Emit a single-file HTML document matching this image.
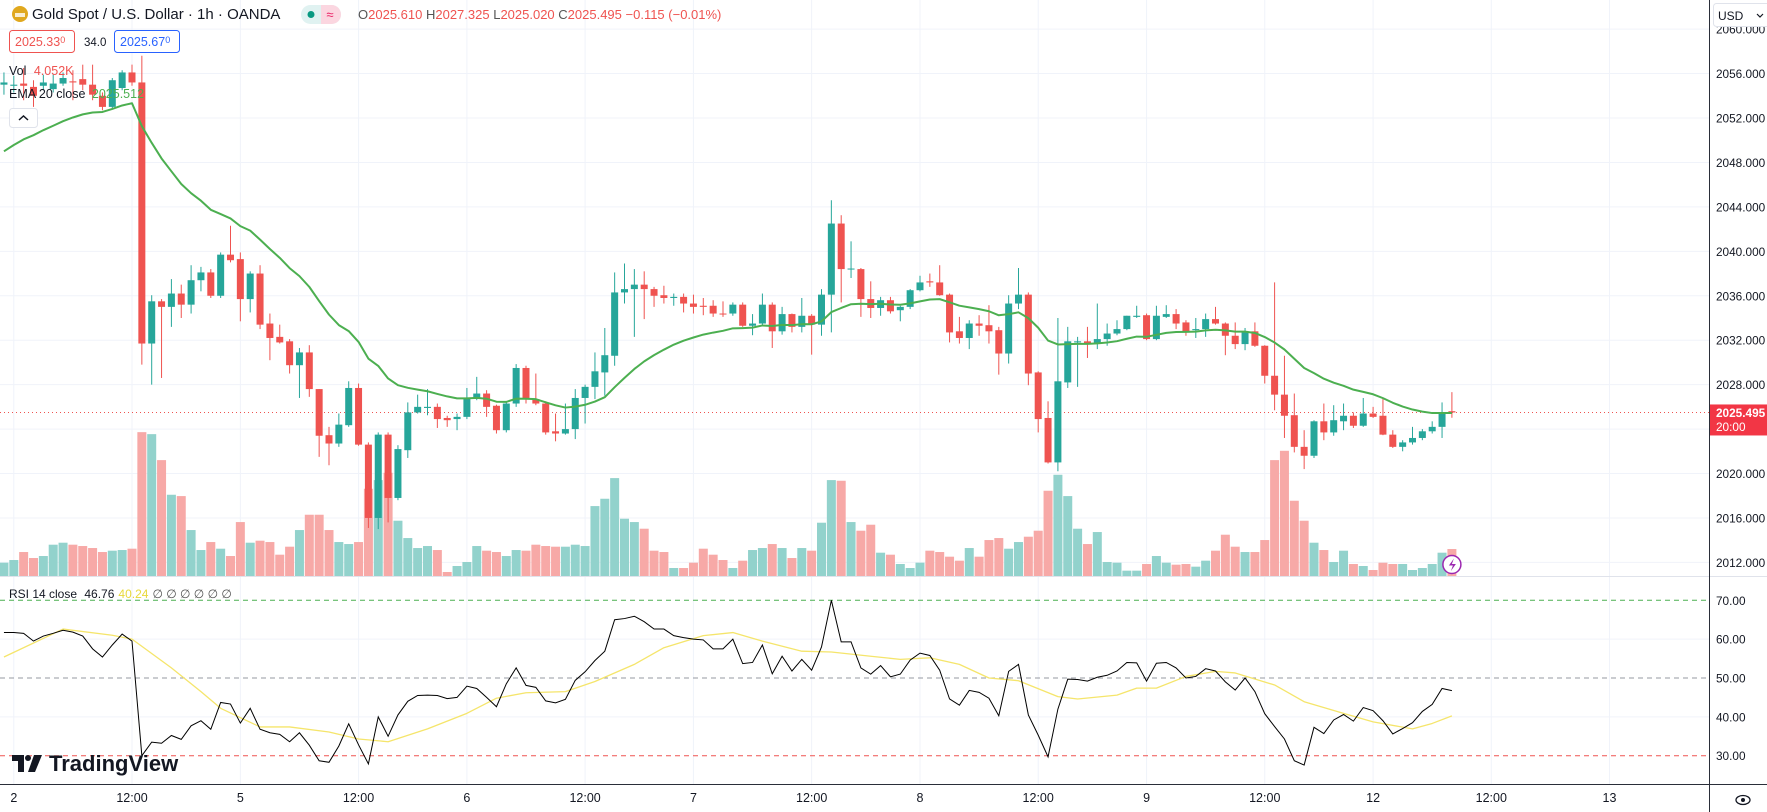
<!DOCTYPE html>
<html><head><meta charset="utf-8"><style>
html,body{margin:0;padding:0;background:#fff;width:1767px;height:812px;overflow:hidden}
svg{display:block;font-family:"Liberation Sans",sans-serif}
</style></head><body>
<svg id="chart" width="1767" height="812" viewBox="0 0 1767 812" xmlns="http://www.w3.org/2000/svg">
<g id="grid"></g>
<g id="volumes"></g>
<g id="candles"></g>
<g id="ema"></g>
<g id="rsi"></g>
<g id="axes"></g>
<g id="overlay">
  <circle cx="20" cy="14" r="8" fill="#e0a81e"/>
  <rect x="15" y="13" width="10" height="4" fill="#fff" opacity="0.8"/>
  <text x="32" y="19" font-size="15" fill="#131722">Gold Spot / U.S. Dollar · 1h · OANDA</text>
  <rect x="301" y="5" width="40" height="19" rx="9.5" fill="#e0f2f1"/>
  <path d="M321 5 h10.5 a9.5 9.5 0 0 1 0 19 h-10.5 z" fill="#fbd6e0"/>
  <circle cx="311" cy="14.5" r="3.5" fill="#089981"/>
  <text x="330" y="19" font-size="13" fill="#e91e63" text-anchor="middle">≈</text>
  <text x="358" y="19" font-size="13" fill="#ef5350"><tspan fill="#555">O</tspan>2025.610 <tspan fill="#555">H</tspan>2027.325 <tspan fill="#555">L</tspan>2025.020 <tspan fill="#555">C</tspan>2025.495 −0.115 (−0.01%)</text>
  <rect x="9.5" y="30.5" width="65" height="22" rx="3" fill="#fff" stroke="#ef5350"/>
  <text x="15" y="46" font-size="12.5" fill="#ef5350">2025.33<tspan font-size="9" dy="-3">0</tspan></text>
  <text x="84" y="46" font-size="11.5" fill="#131722">34.0</text>
  <rect x="114.5" y="30.5" width="65" height="22" rx="3" fill="#fff" stroke="#2962ff"/>
  <text x="120" y="46" font-size="12.5" fill="#2962ff">2025.67<tspan font-size="9" dy="-3">0</tspan></text>
  <text x="9" y="75" font-size="12.5" fill="#131722">Vol <tspan fill="#ef5350" dx="4">4.052K</tspan></text>
  <text x="9" y="98" font-size="12.5" fill="#131722">EMA 20 close <tspan fill="#4caf50" dx="3">2025.512</tspan></text>
  <rect x="9.5" y="108.5" width="28" height="19" rx="3" fill="#fff" stroke="#e0e3eb"/>
  <path d="M19 120 l4.5 -4 l4.5 4" fill="none" stroke="#131722" stroke-width="1.5"/>
  <text x="9" y="598" font-size="12" fill="#131722">RSI 14 close <tspan dx="4">46.76</tspan><tspan fill="#e8d93a" dx="4">40.24</tspan><tspan dx="4" fill="#555">∅ ∅ ∅ ∅ ∅ ∅</tspan></text>
  <g>
    <path d="M12 755 h12 v17 h-6 v-11 h-6 z" fill="#131722"/>
    <circle cx="28" cy="758" r="3" fill="#131722"/>
    <path d="M34 755 h8 l-7 17 h-7 z" fill="#131722"/>
    <text x="49" y="771" font-size="22" font-weight="bold" fill="#131722">TradingView</text>
  </g>
  <rect x="1713.5" y="3.5" width="56" height="23" rx="3" fill="#fff" stroke="#e0e3eb"/>
  <text x="1718" y="20" font-size="12" fill="#131722">USD</text>
  <path d="M1757 14 l3 3 l3 -3" fill="none" stroke="#131722" stroke-width="1.2"/>
  <g>
    <ellipse cx="1743" cy="800" rx="7" ry="4.5" fill="none" stroke="#131722" stroke-width="1.3"/>
    <circle cx="1743" cy="800" r="2" fill="#131722"/>
  </g>
</g>
</svg>
<script>
const opens=[2055.0,2054.9,2055.1,2054.8,2054.9,2054.6,2055.1,2055.3,2055.5,2055.0,2054.0,2053.0,2054.7,2056.1,2055.2,2031.7,2035.5,2035.0,2036.2,2035.2,2037.4,2038.1,2036.0,2039.7,2039.3,2035.7,2038.0,2033.5,2032.3,2031.9,2029.75,2030.9,2027.6,2023.45,2022.7,2024.35,2027.7,2022.6,2016.0,2023.5,2017.8,2022.1,2025.5,2025.9,2026.0,2025.0,2024.9,2025.1,2026.8,2027.2,2026.1,2023.9,2026.3,2029.5,2026.7,2026.3,2023.8,2023.6,2024.0,2026.8,2027.8,2029.1,2030.6,2036.3,2036.6,2037.0,2036.6,2036.05,2035.8,2035.9,2035.3,2035.1,2035.1,2034.4,2034.4,2035.2,2033.3,2033.5,2035.2,2032.8,2034.35,2033.2,2034.2,2033.4,2036.1,2042.5,2038.4,2038.4,2035.7,2034.9,2035.6,2034.7,2035.0,2036.5,2037.3,2037.2,2036.1,2032.8,2032.2,2033.5,2033.35,2032.9,2030.8,2035.3,2036.1,2029.1,2025.0,2021.0,2028.2,2031.8,2031.9,2031.7,2032.1,2032.6,2033.0,2034.1,2034.25,2032.1,2034.1,2034.35,2033.6,2032.9,2033.0,2033.9,2033.5,2032.4,2031.65,2032.8,2031.5,2028.8,2027.1,2025.25,2022.4,2021.6,2024.7,2023.7,2024.7,2025.2,2024.3,2025.4,2025.2,2023.5,2022.4,2022.8,2023.2,2023.8,2024.2,2025.61];
const highs=[2056.1,2055.8,2056.5,2055.4,2055.9,2055.9,2056.1,2056.3,2056.8,2056.8,2054.3,2055.6,2056.3,2056.8,2057.6,2036.05,2035.7,2037.5,2037.0,2038.75,2038.6,2038.4,2039.9,2042.3,2039.9,2038.2,2038.75,2034.4,2033.4,2032.1,2031.3,2031.55,2027.6,2024.2,2025.4,2028.3,2028.1,2022.8,2023.7,2023.7,2022.55,2026.4,2027.1,2027.6,2026.3,2025.2,2025.4,2027.7,2028.7,2027.5,2026.2,2026.5,2029.85,2029.7,2029.0,2026.5,2025.4,2026.3,2027.6,2028.0,2030.9,2033.1,2038.1,2038.9,2038.4,2038.2,2036.8,2036.9,2036.2,2036.2,2036.1,2035.8,2035.6,2035.5,2035.4,2035.4,2034.35,2036.2,2035.4,2035.0,2034.4,2035.8,2034.35,2036.6,2044.6,2043.25,2040.9,2038.5,2037.3,2035.9,2035.9,2035.1,2036.6,2037.8,2038.0,2038.75,2036.2,2034.1,2033.8,2034.25,2035.15,2033.2,2036.05,2038.5,2036.3,2029.2,2026.5,2034.0,2033.2,2032.3,2033.2,2035.3,2033.5,2033.8,2034.2,2035.1,2034.4,2035.1,2035.15,2034.8,2033.8,2034.0,2034.4,2035.0,2033.6,2033.6,2033.1,2033.6,2031.55,2037.2,2030.6,2027.2,2023.9,2024.8,2026.3,2026.15,2026.3,2025.5,2026.8,2026.0,2026.8,2023.9,2023.0,2024.2,2024.0,2024.7,2026.4,2027.325];
const lows=[2054.1,2054.3,2053.6,2053.0,2054.5,2054.3,2054.9,2053.6,2054.5,2053.6,2052.7,2052.8,2054.5,2054.9,2029.8,2028.0,2028.6,2033.2,2034.0,2034.4,2036.4,2035.8,2035.8,2039.0,2033.7,2034.5,2033.0,2030.2,2031.7,2029.0,2026.8,2026.9,2021.5,2020.75,2022.4,2024.2,2022.5,2015.1,2015.0,2015.6,2017.6,2021.4,2025.4,2025.25,2024.1,2024.2,2023.9,2024.9,2026.6,2025.1,2023.6,2023.7,2026.0,2026.3,2026.15,2023.5,2022.9,2023.5,2023.1,2024.5,2026.7,2027.0,2029.7,2035.3,2032.3,2033.9,2035.0,2035.3,2035.1,2034.5,2034.4,2034.25,2034.1,2034.1,2034.2,2033.2,2032.45,2033.3,2031.3,2032.5,2032.7,2032.7,2030.7,2032.4,2032.7,2035.4,2037.6,2034.1,2034.0,2034.2,2034.4,2033.7,2034.8,2036.4,2036.8,2036.0,2031.8,2031.7,2031.2,2032.4,2031.7,2028.9,2029.9,2034.8,2027.95,2023.7,2020.9,2020.2,2027.7,2027.8,2030.4,2031.2,2031.5,2032.45,2032.9,2034.0,2032.0,2032.0,2034.0,2033.0,2032.4,2032.2,2032.3,2033.4,2030.65,2031.2,2031.1,2031.4,2028.1,2025.7,2023.2,2021.9,2020.4,2021.4,2023.0,2023.4,2023.9,2024.1,2024.2,2025.0,2023.45,2022.3,2022.0,2022.6,2023.0,2023.6,2023.2,2025.02];
const closes=[2055.2,2055.0,2054.9,2054.0,2055.2,2055.1,2055.6,2055.2,2055.0,2054.1,2053.0,2055.4,2056.1,2055.2,2031.7,2035.5,2035.0,2036.2,2035.2,2037.4,2038.1,2036.0,2039.7,2039.2,2035.7,2038.0,2033.4,2032.2,2031.8,2029.75,2030.9,2027.6,2023.4,2022.7,2024.4,2027.7,2022.6,2016.0,2023.5,2017.8,2022.2,2025.5,2026.0,2026.0,2024.9,2024.8,2025.1,2026.8,2027.2,2026.0,2023.9,2026.3,2029.5,2026.7,2026.3,2023.7,2023.6,2024.0,2026.8,2027.8,2029.2,2030.65,2036.3,2036.6,2037.0,2036.6,2036.0,2035.8,2035.9,2035.3,2035.0,2035.0,2034.4,2034.35,2035.2,2033.3,2033.5,2035.2,2032.8,2034.35,2033.2,2034.2,2033.4,2036.1,2042.5,2038.4,2038.45,2035.7,2034.9,2035.6,2034.6,2035.0,2036.5,2037.2,2037.2,2036.05,2032.7,2032.2,2033.5,2033.3,2032.8,2030.8,2035.3,2036.1,2029.0,2024.9,2021.0,2028.3,2031.9,2031.9,2031.7,2032.1,2032.6,2033.0,2034.2,2034.2,2032.1,2034.2,2034.35,2033.5,2032.8,2033.0,2033.9,2033.5,2032.4,2031.65,2032.8,2031.5,2028.8,2027.1,2025.2,2022.4,2021.6,2024.7,2023.7,2024.8,2025.2,2024.3,2025.4,2025.1,2023.5,2022.4,2022.8,2023.2,2023.8,2024.2,2025.5,2025.495];
const volumesK=[2.0,2.4,3.6,2.7,3.0,4.7,5.0,4.7,4.5,4.2,3.6,3.8,3.9,4.1,21.6,21.3,17.4,12.2,12.0,6.9,3.9,5.1,4.1,3.0,8.1,5.0,5.3,5.1,3.2,4.4,6.9,9.2,9.2,6.9,5.1,4.8,5.1,13.1,14.4,15.5,8.3,5.7,4.2,4.5,3.9,0.6,1.5,2.1,4.5,3.8,3.6,3.0,3.9,3.8,4.7,4.5,4.4,4.4,4.7,4.5,10.5,11.6,14.7,8.6,8.1,7.1,3.8,3.6,1.2,1.2,2.0,4.1,3.2,2.4,1.2,2.3,3.9,4.2,4.8,4.2,2.7,4.2,3.8,8.0,14.4,14.3,8.1,6.8,7.7,3.5,3.2,1.8,1.2,2.0,3.8,3.6,2.9,2.3,4.2,2.9,5.4,5.7,4.1,5.1,5.9,6.8,12.8,15.2,12.0,7.1,4.8,6.6,2.1,2.0,0.8,0.8,1.8,3.0,2.0,1.7,1.8,1.4,2.3,3.8,6.2,4.4,3.6,3.6,5.4,17.4,18.8,11.3,8.3,5.0,3.9,2.1,3.8,1.8,1.5,0.9,2.0,1.8,1.8,0.9,1.2,1.8,3.5,4.052];
const rsiValues=[61.7,61.7,61.5,59.5,60.8,61.5,62.3,61.8,60.8,57.5,55.4,58.5,61.3,59.5,30.0,33.5,33.2,35.2,34.2,37.7,39.0,36.8,43.7,43.3,38.4,42.2,36.8,35.9,35.5,33.6,35.9,32.7,28.7,28.3,32.5,38.2,32.8,27.9,40.0,35.0,40.5,44.0,45.5,45.6,45.5,44.7,45.0,47.9,47.3,45.0,42.6,48.5,52.6,48.1,47.6,44.1,43.6,44.5,49.4,51.6,54.5,56.9,65.0,65.3,65.9,64.5,62.6,62.6,60.9,60.4,60.0,59.8,57.5,57.5,60.0,53.7,54.0,58.5,51.1,55.6,51.8,54.8,52.0,58.0,70.0,59.3,59.3,52.6,51.0,53.2,50.3,51.0,54.6,56.4,55.8,52.0,44.6,43.0,46.8,46.3,44.8,40.3,51.7,53.5,40.5,35.3,29.7,42.0,49.7,49.6,49.2,50.2,50.7,51.8,54.0,53.9,49.2,53.8,54.0,52.6,50.0,50.4,52.4,51.8,49.0,46.9,50.0,46.5,40.8,37.5,34.3,28.7,27.6,37.3,35.7,39.2,40.6,38.9,42.4,41.6,39.0,35.6,37.0,38.5,41.4,43.2,47.3,46.76];
const rsiMaIdx=[0,6,11,13,17,20,22,26,29,33,36,39,43,47,50,53,57,60,64,67,71,74,77,81,84,88,91,94,97,100,103,107,109,113,115,117,120,123,125,129,132,136,139,143,145,147];
const rsiMaVal=[55.4,62.6,61.0,60.0,52.6,46.5,42.2,37.4,37.4,36.1,34.3,33.6,36.9,40.9,44.8,46.2,46.5,49.1,53.5,57.8,60.9,61.7,59.5,56.9,56.7,55.6,54.8,55.2,53.5,50.0,49.3,45.2,44.6,45.6,47.4,47.4,50.4,51.7,51.3,48.2,43.9,40.9,38.7,36.9,38.3,40.24];
const priceTicks=[2012,2016,2020,2024,2028,2032,2036,2040,2044,2048,2052,2056,2060];
const rsiTicks=[30,40,50,60,70];
const timeLabels=["2","12:00","5","12:00","6","12:00","7","12:00","8","12:00","9","12:00","12","12:00","13"];
const timeLabelBars=[1,13,24,36,47,59,70,82,93,105,116,128,139,151,163];
const emaStart=2049.0;

const NS="http://www.w3.org/2000/svg";
const UP="#26a69a",DN="#ef5350";
const xBar=i=>3.95+9.85*i;
const yPrice=p=>562.4-(p-2012)*11.11;
const yRsi=r=>755.7-(r-30)*3.885;
const yVol=v=>576-v*6.66;
const PLOT_R=1709;
const AXFS=11.8;
function mk(tag,attrs,parent){const e=document.createElementNS(NS,tag);for(const k in attrs)e.setAttribute(k,attrs[k]);parent.appendChild(e);return e;}
const grid=document.getElementById('grid'),axes=document.getElementById('axes');
priceTicks.forEach(p=>{
  const l=mk('line',{x1:0,x2:PLOT_R,y1:yPrice(p),y2:yPrice(p),stroke:'#f0f3fa','stroke-width':1},grid);
  
  
  const t=mk('text',{x:1716,y:yPrice(p)+4.5,'font-size':AXFS,fill:'#131722'},axes);
  t.textContent=p.toFixed(3);
  
  
});
[40,60].forEach(r=>{
  const l=mk('line',{x1:0,x2:PLOT_R,y1:yRsi(r),y2:yRsi(r),stroke:'#f0f3fa','stroke-width':1},grid);
  
  
});
timeLabels.forEach((lab,k)=>{
  const x=xBar(timeLabelBars[k]);
  const l=mk('line',{x1:x,x2:x,y1:0,y2:784,stroke:'#f0f3fa','stroke-width':1},grid);
  
  
  const t=mk('text',{x:x,y:802,'font-size':12.5,fill:'#131722','text-anchor':'middle'},axes);
  t.textContent=lab;
  
  
});
const vg=document.getElementById('volumes');
volumesK.forEach((v,i)=>{
  const up=closes[i]>=opens[i];
  const r=mk('rect',{x:xBar(i)-4.5,y:yVol(v),width:9,height:576-yVol(v),fill:up?'#92d2cc':'#f7a9a7'},vg);
  
  
});
const cl=mk('line',{x1:0,x2:PLOT_R,y1:yPrice(closes[closes.length-1]),y2:yPrice(closes[closes.length-1]),stroke:'#ef5350','stroke-width':1,'stroke-dasharray':'1 3'},grid);


const cg=document.getElementById('candles');
opens.forEach((o,i)=>{
  const c=closes[i],up=c>=o,col=up?UP:DN,x=xBar(i);
  const w=mk('line',{x1:x,x2:x,y1:yPrice(highs[i]),y2:yPrice(lows[i]),stroke:col,'stroke-width':1},cg);
  
  
  const top=yPrice(Math.max(o,c)),bot=yPrice(Math.min(o,c));
  const b=mk('rect',{x:x-3.5,y:top,width:7,height:Math.max(1,bot-top),fill:col},cg);
  
  
});
let e=emaStart;const emaPts=[];
closes.forEach((c,i)=>{if(i>0)e=e+(c-e)*2/21;emaPts.push(xBar(i)+','+yPrice(e));});
const ep=mk('polyline',{points:emaPts.join(' '),fill:'none',stroke:'#4caf50','stroke-width':2,'stroke-linejoin':'round'},document.getElementById('ema'));


const rg=document.getElementById('rsi');
[[70,'#4caf50'],[50,'#9598a1'],[30,'#ef5350']].forEach(([r,col])=>{
  const l=mk('line',{x1:0,x2:PLOT_R,y1:yRsi(r),y2:yRsi(r),stroke:col,'stroke-width':1,'stroke-dasharray':'5 4'},rg);
  
  
});
rsiTicks.forEach(r=>{
  const t=mk('text',{x:1716,y:yRsi(r)+4.5,'font-size':AXFS,fill:'#131722'},axes);
  t.textContent=r.toFixed(2);
  
  
});
const maLine=mk('polyline',{points:rsiMaIdx.map((k,j)=>xBar(k)+','+yRsi(rsiMaVal[j])).join(' '),fill:'none',stroke:'#f5e56b','stroke-width':1.3,'stroke-linejoin':'round'},rg);


const rl=mk('polyline',{points:rsiValues.map((r,i)=>xBar(i)+','+yRsi(r)).join(' '),fill:'none',stroke:'#000','stroke-width':1},rg);


const sep=mk('line',{x1:0,x2:1767,y1:576.5,y2:576.5,stroke:'#e0e3eb','stroke-width':1},axes);


const ax1=mk('line',{x1:PLOT_R+0.5,x2:PLOT_R+0.5,y1:0,y2:812,stroke:'#2a2e39','stroke-width':1},axes);


const ax2=mk('line',{x1:0,x2:1767,y1:784.5,y2:784.5,stroke:'#2a2e39','stroke-width':1},axes);


const lp=closes[closes.length-1];
const lr=mk('rect',{x:PLOT_R+1,y:yPrice(lp)-8,width:58,height:31,fill:'#f23645'},axes);


const lt=mk('text',{x:1716,y:yPrice(lp)+4.5,'font-size':AXFS,'font-weight':'bold',fill:'#fff'},axes);
lt.textContent=lp.toFixed(3);


const lc=mk('text',{x:1716,y:yPrice(lp)+18.5,'font-size':AXFS,fill:'#fff'},axes);
lc.textContent='20:00';


const li=xBar(opens.length-1);
const bc=mk('circle',{cx:li,cy:564.5,r:9,fill:'#fff',stroke:'#9c27b0','stroke-width':1.5},axes);


const bp=mk('path',{d:`M${li+2} ${558.5} l-5 7 h4 l-2 5.5 l5 -7 h-4 z`,fill:'#9c27b0'},axes);


const ov=document.getElementById('overlay');
document.getElementById('chart').appendChild(ov);
</script>
</body></html>
